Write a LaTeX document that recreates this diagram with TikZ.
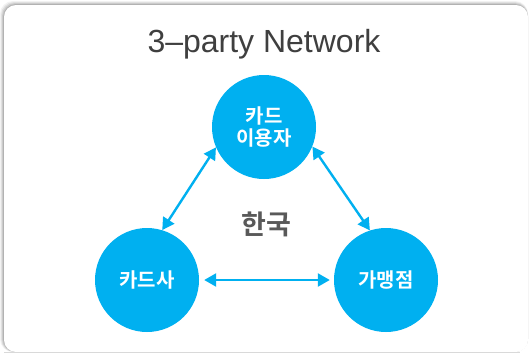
\documentclass[tikz,border=0pt]{standalone}
\usepackage{fontspec}
\newfontfamily\krbb{Noto Sans CJK KR Bold}
\newfontfamily\lat{Liberation Sans}
\usetikzlibrary{arrows.meta}
\definecolor{cblue}{HTML}{00B0F0}
\definecolor{ttl}{HTML}{3F3F3F}
\definecolor{mid}{HTML}{595959}
\tikzset{
  party/.style={circle, fill=cblue, minimum size=104pt, inner sep=0pt, text=white, font=\krbb\fontsize{20}{23}\selectfont, align=center},
  link/.style={cblue, line width=2.4pt, {Triangle[length=12pt,width=13pt]}-{Triangle[length=12pt,width=13pt]}},
}
\begin{document}
\begin{tikzpicture}[x=1pt,y=-1pt]
\useasboundingbox (0,0) rectangle (530,354);
\fill[white] (0,0) rectangle (530,354);
% shadow
\foreach \i/\o in {4/0.05,3/0.07,2/0.09,1/0.12}{
  \fill[black, opacity=\o, rounded corners=13pt] (4-\i,5-\i) rectangle (528,352);
}
\fill[white, rounded corners=12pt] (4,5) rectangle (528,352);
\draw[black!15, line width=0.6pt] (4,352) -- (520,352);
\node[font=\lat\fontsize{32}{36}\selectfont, text=ttl] (title) at (264,44) {3–party Network};
\node[party] (user) at (264,127) {카드\\[-1pt]이용자};
\node[party] (card) at (147,280) {카드사};
\node[party] (shop) at (386,280) {가맹점};
\node[font=\krbb\fontsize{27}{30}\selectfont, text=mid] (korea) at (266,224) {한국};
\draw[link] (user.203) -- (card.73);
\draw[link] (user.-22) -- (shop.108);
\draw[link, shorten <=5pt, shorten >=4pt] (card.east) -- (shop.west);
\end{tikzpicture}
\end{document}
